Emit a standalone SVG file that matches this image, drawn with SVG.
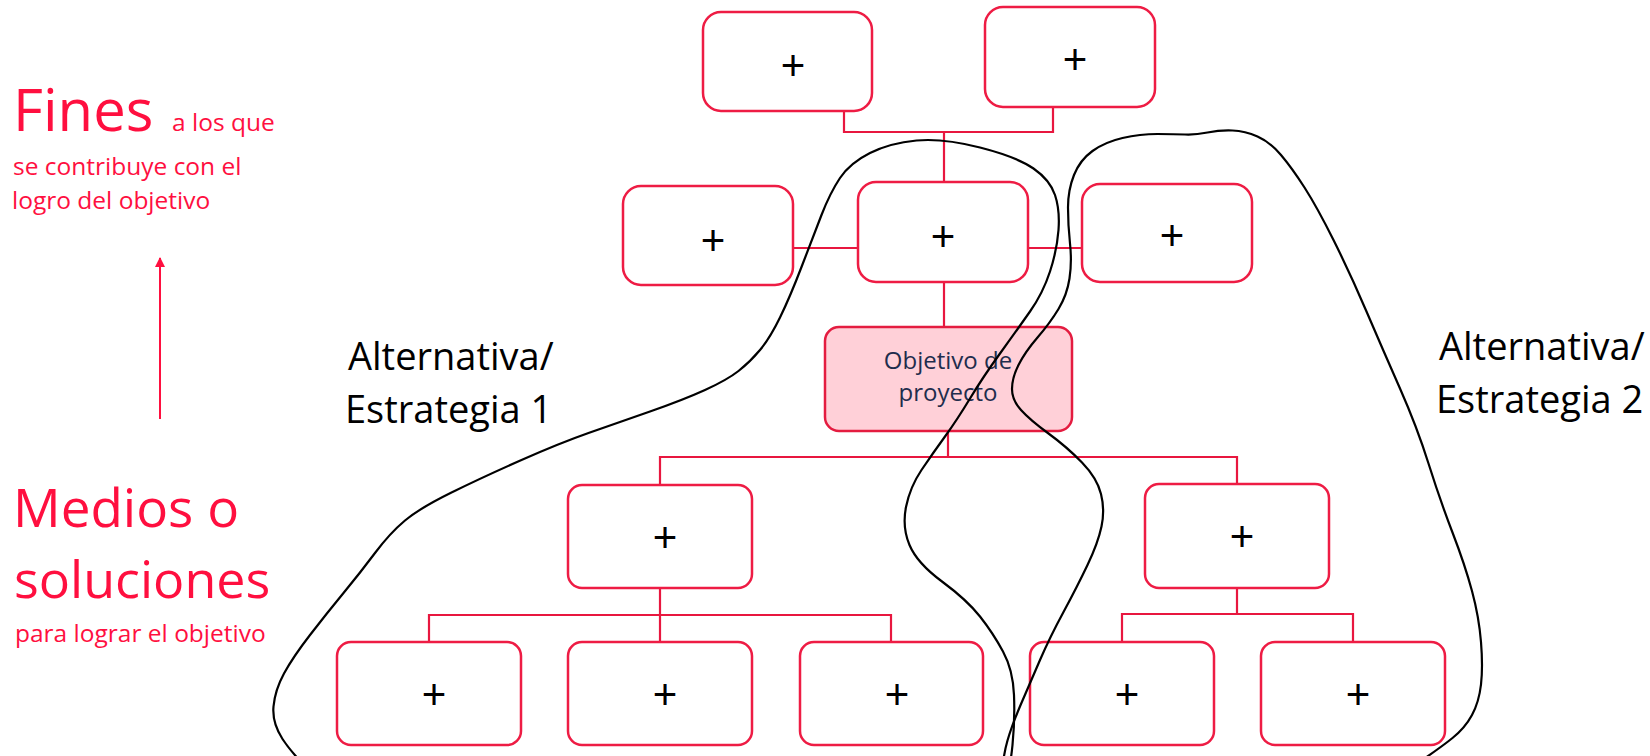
<svg xmlns="http://www.w3.org/2000/svg" width="1650" height="756" viewBox="0 0 1650 756">
<defs>
<style>
.box{fill:#ffffff;stroke:#ee1c44;stroke-width:2.5}
.obj{fill:#ffd0d8;stroke:#e41c40;stroke-width:2.5}
.con{fill:none;stroke:#e8173f;stroke-width:2.2}
.plus{font-family:"Liberation Sans",Arial,sans-serif;font-size:42px;fill:#000;text-anchor:middle}
.lbl{font-family:"Open Sans","Noto Sans",sans-serif;fill:#000;font-size:38px}
.red{font-family:"Open Sans","Noto Sans",sans-serif;fill:#ff0f3f}
.objt{font-family:"Open Sans","Noto Sans",sans-serif;fill:#1f2d4d;font-size:24px;text-anchor:middle}
.loop{fill:none;stroke:#000;stroke-width:2.2}
</style>
<marker id="arr" viewBox="0 0 10 10" refX="9" refY="5" markerWidth="13" markerHeight="10" orient="auto" markerUnits="userSpaceOnUse">
<path d="M0,0 L10,5 L0,10 Z" fill="#ff0f3f"/>
</marker>
</defs>
<rect width="1650" height="756" fill="#ffffff"/>

<g id="connectors">
<path class="con" d="M844,108 V132 H1053 V107"/>
<path class="con" d="M944,132 V182"/>
<path class="con" d="M793,248 H858"/>
<path class="con" d="M1028,248 H1082"/>
<path class="con" d="M944,282 V327"/>
<path class="con" d="M948,431 V457"/>
<path class="con" d="M660,485 V457 H1237 V484"/>
<path class="con" d="M660,588 V642"/>
<path class="con" d="M429,642 V615 H891 V642"/>
<path class="con" d="M1237,588 V614"/>
<path class="con" d="M1122,642 V614 H1353 V642"/>
</g>

<g id="n-top-left"><rect class="box" x="703" y="12" width="169" height="99" rx="18"/><text class="plus" x="793" y="80">+</text></g>
<g id="n-top-right"><rect class="box" x="985" y="7" width="170" height="100" rx="18"/><text class="plus" x="1075" y="74">+</text></g>
<g id="n-mid-left"><rect class="box" x="623" y="186" width="170" height="99" rx="18"/><text class="plus" x="713" y="255">+</text></g>
<g id="n-mid-center"><rect class="box" x="858" y="182" width="170" height="100" rx="18"/><text class="plus" x="943" y="251">+</text></g>
<g id="n-mid-right"><rect class="box" x="1082" y="184" width="170" height="98" rx="18"/><text class="plus" x="1172" y="250">+</text></g>
<g id="n-objetivo"><rect class="obj" x="825" y="327" width="247" height="104" rx="14"/><text class="objt" x="948" y="369">Objetivo de</text><text class="objt" x="948" y="401">proyecto</text></g>
<g id="n-l3-left"><rect class="box" x="568" y="485" width="184" height="103" rx="14"/><text class="plus" x="665" y="552">+</text></g>
<g id="n-l3-right"><rect class="box" x="1145" y="484" width="184" height="104" rx="14"/><text class="plus" x="1242" y="551">+</text></g>
<g id="n-l4-1"><rect class="box" x="337" y="642" width="184" height="103" rx="14"/><text class="plus" x="434" y="709">+</text></g>
<g id="n-l4-2"><rect class="box" x="568" y="642" width="184" height="103" rx="14"/><text class="plus" x="665" y="709">+</text></g>
<g id="n-l4-3"><rect class="box" x="800" y="642" width="183" height="103" rx="14"/><text class="plus" x="897" y="709">+</text></g>
<g id="n-l4-4"><rect class="box" x="1030" y="642" width="184" height="103" rx="14"/><text class="plus" x="1127" y="709">+</text></g>
<g id="n-l4-5"><rect class="box" x="1261" y="642" width="184" height="103" rx="14"/><text class="plus" x="1358" y="709">+</text></g>

<g id="alternativa-1">
<path class="loop" d="M916.5,140.5 Q943,138 980,147.5 Q1017,157 1033.5,168.5 Q1050,180 1055,195 Q1060,210 1058.5,230 Q1057,250 1050,271.5 Q1043,293 1030,311.5 Q1017,330 1000,353.5 Q983,377 970,398.5 Q957,420 945,436.5 Q933,453 921.5,470 Q910,487 906,507 Q902,527 909.5,545 Q917,563 942,581.5 Q967,600 980,616.5 Q993,633 1003,651.5 Q1013,670 1014,695 Q1015,720 1012.5,745 Q1010,770 1005,785 Q1000,800 670,800 Q340,800 316.5,777.5 Q293,755 282.5,739 Q272,723 273.5,706.5 Q275,690 284,673.5 Q293,657 310,635 Q327,613 343.5,593 Q360,573 375,553 Q390,533 405,520.5 Q420,508 451.5,492.5 Q483,477 521.5,460 Q560,443 588.5,433 Q617,423 650,411.5 Q683,400 705,390 Q727,380 738.5,371 Q750,362 760,350 Q770,338 780,317.5 Q790,297 801.5,267 Q813,237 821.5,215 Q830,193 840,178 Q850,163 870,153 Q890,143 916.5,140.5 Z"/>
<text class="lbl" x="348" y="370">Alternativa/</text>
<text class="lbl" x="345" y="423">Estrategia 1</text>
</g>

<g id="alternativa-2">
<path class="loop" d="M1150,800 Q1000,800 1001.5,778 Q1003,756 1007.5,740.5 Q1012,725 1021,704 Q1030,683 1040,660 Q1050,637 1063.5,612 Q1077,587 1087.5,565 Q1098,543 1101.5,526.5 Q1105,510 1101,494 Q1097,478 1082,462.5 Q1067,447 1048.5,433.5 Q1030,420 1021,410 Q1012,400 1012,389 Q1012,378 1018.5,365 Q1025,352 1037.5,337.5 Q1050,323 1058.5,309 Q1067,295 1069.5,278.5 Q1072,262 1070,243.5 Q1068,225 1068,207.5 Q1068,190 1074,175 Q1080,160 1092.5,151 Q1105,142 1122.5,138 Q1140,134 1157.5,134 Q1175,134 1185,134.5 Q1195,135 1207.5,132.5 Q1220,130 1232.5,130.5 Q1245,131 1257.5,136.5 Q1270,142 1281,155 Q1292,168 1304.5,187.5 Q1317,207 1333.5,240 Q1350,273 1366.5,311.5 Q1383,350 1400,388.5 Q1417,427 1428.5,463.5 Q1440,500 1452.5,532.5 Q1465,565 1472,591 Q1479,617 1481,642 Q1483,667 1481,684.5 Q1479,702 1472,715 Q1465,728 1452.5,738 Q1440,748 1420,761.5 Q1400,775 1350,787.5 Q1300,800 1150,800 Z"/>
<text class="lbl" x="1439" y="360">Alternativa/</text>
<text class="lbl" x="1436" y="413">Estrategia 2</text>
</g>

<g id="fines">
<text class="red" x="13" y="131" font-size="58">Fines</text>
<text class="red" x="172" y="131" font-size="24.5">a los que</text>
<text class="red" x="13" y="175" font-size="24.5">se contribuye con el</text>
<text class="red" x="12" y="209" font-size="24.5">logro del objetivo</text>
</g>
<line id="arrow" x1="160" y1="419" x2="160" y2="258" stroke="#ff0f3f" stroke-width="2" marker-end="url(#arr)"/>
<g id="medios">
<text class="red" x="13" y="527" font-size="53">Medios o</text>
<text class="red" x="14" y="598" font-size="52">soluciones</text>
<text class="red" x="15" y="642" font-size="24.5">para lograr el objetivo</text>
</g>
</svg>
